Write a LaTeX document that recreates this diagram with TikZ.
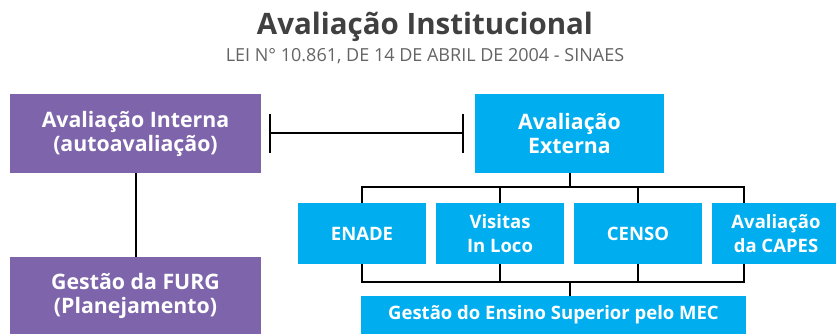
\documentclass[tikz,border=0pt]{standalone}
\usepackage{fontspec}
\setmainfont{Open Sans}
\usetikzlibrary{calc,arrows.meta}

\definecolor{furgpurple}{RGB}{126,101,171}
\definecolor{mecblue}{RGB}{0,174,239}
\definecolor{titlegray}{RGB}{64,64,64}
\definecolor{leigray}{RGB}{100,100,100}

\tikzset{
  title/.style={anchor=base, text=titlegray, font=\bfseries\fontsize{29.5}{34}\selectfont},
  subtitle/.style={anchor=base, text=leigray, font=\fontsize{18}{22}\selectfont},
  purplebox/.style={fill=furgpurple, text=white, align=center, inner sep=0pt,
    minimum width=251pt, minimum height=79pt, font=\bfseries\fontsize{21.3}{24}\selectfont},
  bluebox/.style={fill=mecblue, text=white, align=center, inner sep=0pt,
    minimum width=128pt, minimum height=61pt, font=\bfseries\fontsize{18.5}{24.5}\selectfont},
  link/.style={line width=2pt, black}
}

\begin{document}
\begin{tikzpicture}[x=1pt, y=-1pt]
    \useasboundingbox (0,0) rectangle (836,334);

    %% Avaliacao Institucional (SINAES)

    % Title
    \node[title] (titulo) at (425,35) {Avaliação Institucional};
    \node[subtitle] (lei) at (425,62) {LEI N° 10.861, DE 14 DE ABRIL DE 2004 - SINAES};

    % Internal side
    \node[purplebox] (interna) at (135.5,133.5) {Avaliação Interna\\(autoavaliação)};
    \node[purplebox, minimum height=77pt] (furg) at (135.5,295.5) {Gestão da FURG\\(Planejamento)};
    \draw[link] (interna) -- (furg);

    % External side
    \node[bluebox, minimum width=189pt, minimum height=79pt, font=\bfseries\fontsize{21.3}{24}\selectfont]
        (externa) at (569.5,133.5) {Avaliação\\Externa};
    \draw[link, {Bar[width=39pt]}-{Bar[width=39pt]}]
        ($(interna.east)+(7.5,0)$) -- ($(externa.west)+(-11,0)$);

    % Instruments
    \node[bluebox] (enade) at (362,233.5) {ENADE};
    \node[bluebox] (visitas) at (500,233.5) {Visitas\\In Loco};
    \node[bluebox] (censo) at (638,233.5) {CENSO};
    \node[bluebox] (capes) at (776,233.5) {Avaliação\\da CAPES};

    % MEC
    \node[bluebox, minimum width=385pt, minimum height=38pt] (mec) at (553.5,315) {Gestão do Ensino Superior pelo MEC};

    % Upper bus
    \draw[link] (externa.south) -- ++(0,14) coordinate (bustop);
    \draw[link] (enade.north) |- (bustop) -| ($(capes.north)+(-32,0)$);
    \draw[link] (visitas.north) -- (visitas.north |- bustop);
    \draw[link] (censo.north) -- (censo.north |- bustop);

    % Lower bus
    \draw[link] (externa.south |- mec.north) -- ++(0,-14) coordinate (busbot);
    \draw[link] (enade.south) |- (busbot) -| ($(capes.south)+(-32,0)$);
    \draw[link] (visitas.south) -- (visitas.south |- busbot);
    \draw[link] (censo.south) -- (censo.south |- busbot);

\end{tikzpicture}
\end{document}
